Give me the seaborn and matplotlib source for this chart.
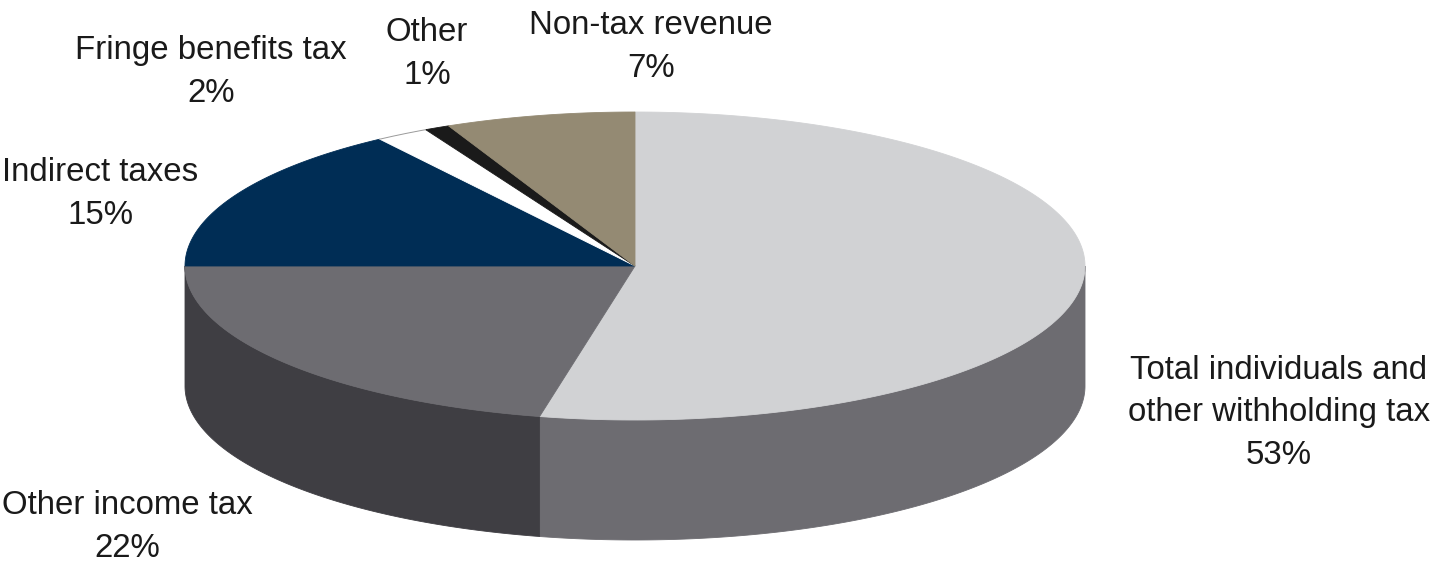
import numpy as np
import pandas as pd
import matplotlib
matplotlib.use("Agg")
import matplotlib.pyplot as plt
from matplotlib.patches import Polygon
import seaborn as sns

# revenue shares (%), clockwise from 12 o'clock; labels show rounded values
categories = ["Total individuals and\nother withholding tax", "Other income tax",
              "Indirect taxes", "Fringe benefits tax", "Other", "Non-tax revenue"]
shares = [53.4, 21.6, 15.4, 1.9, 0.9, 6.8]
top_colors = ["#D1D2D4", "#6D6C71", "#002D55", "#FFFFFF", "#1A1A1A", "#948A73"]
side_colors = ["#6D6C71", "#3F3E43", "#001E3A", "#DDDDDD", "#111111", "#6E6655"]

# label block centres (pixels)
label_xy = [(1279, 413), (127, 527), (100, 194), (211, 72), (427, 54), (651, 47)]

sns.set_theme(style="white")
plt.rcParams["font.family"] = ["Liberation Sans", "DejaVu Sans"]

# pie geometry in pixel units
cx, cy = 635, 266
rx, ry = 450, 154
depth = 120

df = pd.DataFrame({"category": categories, "share": shares,
                   "top": top_colors, "side": side_colors})
df["end"] = df["share"].cumsum() / df["share"].sum() * 360.0
df["start"] = df["end"] - df["share"] / df["share"].sum() * 360.0


def rim(t0, t1, n=200):
    t = np.radians(np.linspace(t0, t1, n))
    return cx + rx * np.sin(t), cy - ry * np.cos(t)


fig = plt.figure(figsize=(14.4, 5.67), dpi=100)
ax = fig.add_axes([0, 0, 1, 1])
ax.set_xlim(0, 1440)
ax.set_ylim(567, 0)
ax.axis("off")

# side walls (front half only: 90..270 degrees)
for _, r in df.iterrows():
    t0, t1 = max(r["start"], 90), min(r["end"], 270)
    if t1 - t0 < 0.05:
        continue
    x, y = rim(t0, t1)
    pts = np.column_stack([np.r_[x, x[::-1]], np.r_[y, y[::-1] + depth]])
    ax.add_patch(Polygon(pts, closed=True, facecolor=r["side"],
                         edgecolor=r["side"], lw=0.6))

# top faces
for _, r in df.iterrows():
    x, y = rim(r["start"], r["end"])
    pts = np.column_stack([np.r_[cx, x], np.r_[cy, y]])
    ax.add_patch(Polygon(pts, closed=True, facecolor=r["top"],
                         edgecolor=r["top"], lw=0.6))
    if r["top"] == "#FFFFFF":
        ax.plot(x, y, color="#9A9A9A", lw=0.7)

# labels
for (lx, ly), cat, s in zip(label_xy, categories, shares):
    ax.text(lx, ly, f"{cat}\n{round(s)}%", ha="center", va="center",
            fontsize=23.8, color="#1A1A1A", linespacing=1.47)

fig.savefig("out.png", dpi=100, facecolor="white")
